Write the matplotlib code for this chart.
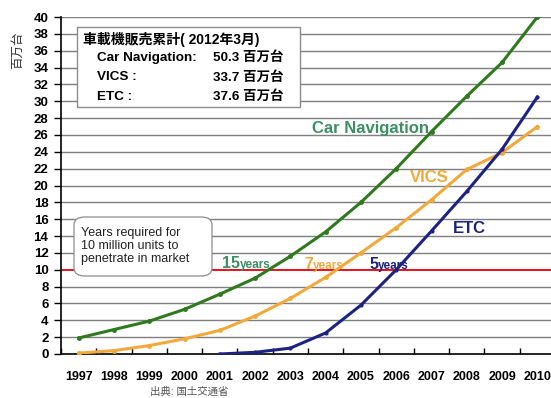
import matplotlib
matplotlib.use("Agg")
import matplotlib.pyplot as plt
from matplotlib.patches import FancyBboxPatch, Rectangle
import numpy as np

plt.rcParams['font.family'] = ['Liberation Sans', 'Noto Sans CJK JP', 'DejaVu Sans']

# data (百万台)
years = ['1997', '1998', '1999', '2000', '2001', '2002', '2003',
         '2004', '2005', '2006', '2007', '2008', '2009', '2010']
car_nav = [1.9, 2.9, 3.9, 5.3, 7.1, 9.0, 11.6, 14.5, 18.0, 22.0, 26.4, 30.6, 34.6, 40.0]
vics = [0.1, 0.4, 1.0, 1.8, 2.8, 4.5, 6.6, 9.1, 12.0, 15.0, 18.3, 21.9, 23.9, 27.0]
etc_years = years[4:]
etc = [0.0, 0.2, 0.7, 2.5, 5.8, 10.0, 14.6, 19.3, 24.3, 30.5]

GREEN = '#2f7a1f'
GREEN_TXT = '#3b8f63'
ORANGE = '#f2a93b'
BLUE = '#1c2380'

W, H = 551, 398
fig = plt.figure(figsize=(W / 100, H / 100), dpi=100)

def fx(px):
    return px / W

def fy(py):
    return 1 - py / H

ax = fig.add_axes([fx(61), fy(354), fx(494), fy(17) - fy(354)])

x = np.arange(len(years))
xe = np.arange(len(years) - len(etc), len(years))

for v in range(2, 42, 2):
    if v != 10:
        ax.axhline(v, color='#7f7f7f', lw=1.0, zorder=1)
ax.axhline(10, color='#e8101a', lw=1.4, zorder=2)

ax.plot(x, car_nav, color=GREEN, lw=2.2, marker='o', ms=2.5, zorder=4)
ax.plot(x, vics, color=ORANGE, lw=2.2, marker='o', ms=2.5, zorder=4)
ax.plot(xe, etc, color=BLUE, lw=2.2, marker='o', ms=2.0, zorder=4)

ax.set_xlim(-0.5, len(years) - 0.5)
ax.set_ylim(0, 40)
ax.set_yticks(range(0, 42, 2))
ax.set_xticks(x)
ax.set_xticklabels(years, fontsize=9, fontweight='bold')
ax.set_xticks(np.arange(-0.5, len(years), 1), minor=True)
ax.tick_params(axis='x', which='major', length=0, pad=12)
ax.tick_params(axis='x', which='minor', length=4, direction='in', width=1)
ax.tick_params(axis='y', length=5, direction='out', width=1, pad=4)
for lab in ax.get_yticklabels():
    lab.set_fontsize(9.5)
    lab.set_fontweight('bold')
for s in ['top', 'right']:
    ax.spines[s].set_visible(False)
ax.spines['left'].set_linewidth(1.2)
ax.spines['bottom'].set_linewidth(1.2)

# y axis unit
fig.text(fx(18), fy(50), '百万台', rotation=90, ha='center', va='center',
         fontsize=9, color='#333333')

# series labels
fig.text(fx(312), fy(128), 'Car Navigation', color=GREEN_TXT, fontsize=12,
         fontweight='bold', va='center', ha='left')
fig.text(fx(410), fy(177), 'VICS', color=ORANGE, fontsize=12,
         fontweight='bold', va='center', ha='left')
fig.text(fx(453), fy(228), 'ETC', color=BLUE, fontsize=12,
         fontweight='bold', va='center', ha='left')

def years_label(px, py, num, color):
    t = fig.text(fx(px), fy(py), num, color=color, fontsize=11.5,
                 fontweight='bold', va='baseline', ha='left')
    fig.canvas.draw()
    bb = t.get_window_extent()
    fig.text(bb.x1 / W, fy(py), 'years', color=color, fontsize=8.5,
             fontweight='bold', va='baseline', ha='left')

years_label(222, 268, '15', GREEN_TXT)
years_label(304, 269, '7', ORANGE)
years_label(369, 269, '5', BLUE)

# summary box
box = Rectangle((fx(77), fy(107)), fx(300) - fx(77), fy(27) - fy(107),
                transform=fig.transFigure, facecolor='white',
                edgecolor='#8c8c8c', lw=1.0, zorder=5)
fig.patches.append(box)
fig.text(fx(83), fy(39), '車載機販売累計( 2012年3月)', fontsize=10,
         fontweight='bold', va='center', ha='left', zorder=6)
rows = [('Car Navigation:', '50.3'), ('VICS :', '33.7'), ('ETC :', '37.6')]
for i, (name, val) in enumerate(rows):
    yy = 58 + i * 19.5
    fig.text(fx(97), fy(yy), name, fontsize=9.7, fontweight='bold',
             va='center', ha='left', zorder=6)
    fig.text(fx(213), fy(yy), val + ' 百万台', fontsize=9.7, fontweight='bold',
             va='center', ha='left', zorder=6)

# note box
note = FancyBboxPatch((fx(74), fy(276)), fx(212) - fx(74), fy(217) - fy(276),
                      boxstyle='round,pad=0,rounding_size=0.02',
                      transform=fig.transFigure, facecolor='white',
                      edgecolor='#8c8c8c', lw=0.9, zorder=5)
fig.patches.append(note)
fig.text(fx(81), fy(246), 'Years required for\n10 million units to\npenetrate in market',
         fontsize=9, va='center', ha='left', linespacing=1.1,
         color='#222222', zorder=6)

fig.text(fx(150), fy(392), '出典: 国土交通省', fontsize=7.5, color='#555555',
         va='center', ha='left')

fig.savefig('out.png', dpi=100)
